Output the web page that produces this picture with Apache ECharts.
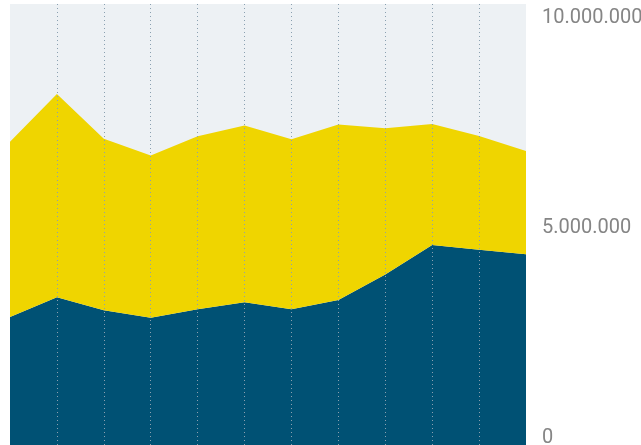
<!DOCTYPE html>
<html>
<head>
<meta charset="utf-8">
<script src="https://cdn.jsdelivr.net/npm/echarts@6/dist/echarts.min.js"></script>
<style>
html,body{margin:0;padding:0;background:#fff;}
#chart{width:641px;height:445px;}
</style>
</head>
<body>
<div id="chart"></div>
<script>
var categories = ['1','2','3','4','5','6','7','8','9','10','11','12'];
var seriesBlue = [3050000, 3520000, 3210000, 3030000, 3230000, 3400000, 3230000, 3450000, 4060000, 4760000, 4650000, 4540000];
var seriesYellow = [4170000, 4840000, 4080000, 3860000, 4120000, 4210000, 4050000, 4180000, 3480000, 2880000, 2710000, 2460000];
var yTicks = [0, 5000000, 10000000];

var chart = echarts.init(document.getElementById('chart'));
chart.setOption({
  animation: false,
  grid: {
    left: 10, right: 115, top: 4, bottom: 0,
    outerBoundsMode: 'none',
    containLabel: false,
    show: true, backgroundColor: '#edf1f4', borderWidth: 0
  },
  xAxis: {
    type: 'category',
    data: categories,
    boundaryGap: false,
    z: 10,
    axisLine: {show: false},
    axisTick: {show: false},
    axisLabel: {show: false},
    splitLine: {
      show: true,
      interval: function (idx) { return idx > 0 && idx < categories.length - 1; },
      lineStyle: {color: '#8aa0b0', width: 1, type: [1, 3]}
    }
  },
  yAxis: {
    type: 'value',
    position: 'right',
    min: 0,
    max: 10500000,
    interval: 5000000,
    axisLine: {show: false},
    axisTick: {show: false},
    splitLine: {show: false},
    axisLabel: {
      margin: 16,
      color: '#858585',
      fontFamily: 'Roboto',
      fontWeight: 'normal',
      fontSize: 20,
      lineHeight: 15,
      verticalAlign: 'bottom',
      showMaxLabel: false,
      formatter: function (v) {
        if (yTicks.indexOf(v) < 0) return '';
        return String(v).replace(/\B(?=(\d{3})+(?!\d))/g, '.');
      }
    }
  },
  series: [
    {
      type: 'line', stack: 'total', data: seriesBlue,
      symbol: 'none', lineStyle: {width: 0},
      areaStyle: {color: '#005174', opacity: 1}
    },
    {
      type: 'line', stack: 'total', data: seriesYellow,
      symbol: 'none', lineStyle: {width: 0},
      areaStyle: {color: '#efd500', opacity: 1}
    }
  ]
});
</script>
</body>
</html>
